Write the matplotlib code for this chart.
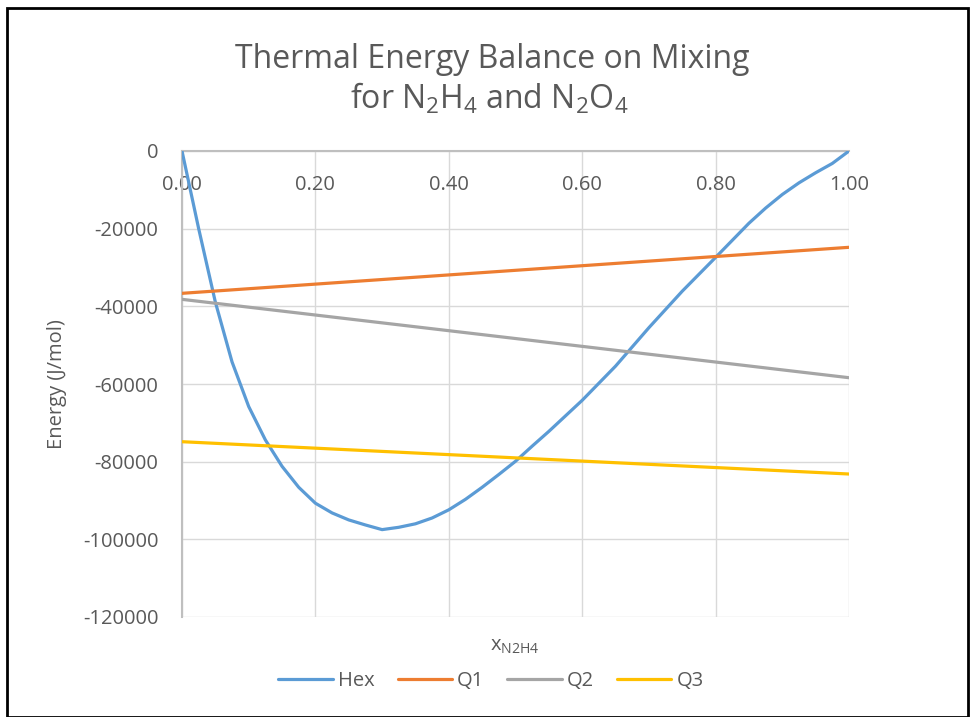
import matplotlib.pyplot as plt
from matplotlib.patches import Rectangle

# dados
x_hex = [0.000, 0.025, 0.050, 0.075, 0.100, 0.125, 0.150, 0.175, 0.200, 0.225,
         0.250, 0.275, 0.300, 0.325, 0.350, 0.375, 0.400, 0.425, 0.450, 0.475,
         0.500, 0.525, 0.550, 0.600, 0.650, 0.700, 0.750, 0.800, 0.850, 0.875,
         0.900, 0.925, 0.950, 0.975, 1.000]
hex_vals = [0, -20000, -38900, -54300, -65800, -74400, -81200, -86600, -90700,
            -93200, -95000, -96300, -97500, -96900, -96000, -94500, -92400,
            -89700, -86600, -83300, -79900, -76000, -72200, -64200, -55400,
            -45500, -36100, -27400, -18600, -14700, -11200, -8200, -5600,
            -3200, 0]
x_q = [0.0, 1.0]
q1 = [-36650, -24800]
q2 = [-38200, -58380]
q3 = [-74860, -83180]

plt.rcParams['font.family'] = ['Open Sans', 'DejaVu Sans']
plt.rcParams['mathtext.fontset'] = 'custom'
plt.rcParams['mathtext.rm'] = 'Open Sans'
plt.rcParams['mathtext.it'] = 'Open Sans:italic'
texto = '#595959'

fig = plt.figure(figsize=(9.71, 7.17), dpi=100)
W, H = 971, 717
ax = fig.add_axes([182 / W, 1 - 617 / H, 667 / W, 466 / H])

estilo = dict(lw=2.3, zorder=3, solid_joinstyle='round', solid_capstyle='round')
ax.plot(x_hex, hex_vals, color='#5B9BD5', label='Hex', **estilo)
ax.plot(x_q, q1, color='#ED7D31', label='Q1', **estilo)
ax.plot(x_q, q2, color='#A5A5A5', label='Q2', **estilo)
ax.plot(x_q, q3, color='#FFC000', label='Q3', **estilo)

ax.set_xlim(0, 1)
ax.set_ylim(-120000, 0)
ax.set_xticks([0, 0.2, 0.4, 0.6, 0.8, 1.0])
ax.set_xticklabels(['0.00', '0.20', '0.40', '0.60', '0.80', '1.00'])
ax.set_yticks(range(-120000, 1, 20000))
ax.set_yticklabels([str(v) for v in range(-120000, 1, 20000)])
ax.grid(True, color='#d9d9d9', lw=1.0, zorder=0)

ax.spines['bottom'].set_position(('data', 0))
ax.spines['top'].set_visible(False)
ax.spines['right'].set_visible(False)
for s in ['bottom', 'left']:
    ax.spines[s].set_color('#bfbfbf')
    ax.spines[s].set_linewidth(1.5)
    ax.spines[s].set_zorder(2)

ax.tick_params(axis='x', length=0, pad=17, labelsize=14.5, labelcolor=texto)
ax.tick_params(axis='y', length=0, pad=17, labelsize=14.5, labelcolor=texto)

fig.text(492 / W, 1 - 68 / H, 'Thermal Energy Balance on Mixing',
         ha='center', va='baseline', fontsize=23, color=texto)
fig.text(489 / W, 1 - 109 / H, r'for N$_2$H$_4$ and N$_2$O$_4$',
         ha='center', va='baseline', fontsize=23, color=texto)
fig.text(57 / W, 1 - 384 / H, 'Energy (J/mol)', rotation=90,
         ha='center', va='center', fontsize=14.5, color=texto)
fig.text(515 / W, 1 - 646 / H, r'x$_{\mathrm{N2H4}}$',
         ha='center', va='center', fontsize=14.5, color=texto)

leg = fig.legend(loc='center', bbox_to_anchor=(491 / W, 1 - 681 / H), ncol=4,
                 frameon=False, fontsize=14.5, handlelength=2.7,
                 handletextpad=0.25, columnspacing=1.15)
for t in leg.get_texts():
    t.set_color(texto)

# moldura do grafico
fig.patches.append(Rectangle((6.5 / W, 0.5 / H), 961.5 / W, 709 / H,
                             transform=fig.transFigure, fill=False,
                             edgecolor='black', lw=2))

fig.savefig('out.png', dpi=100)
